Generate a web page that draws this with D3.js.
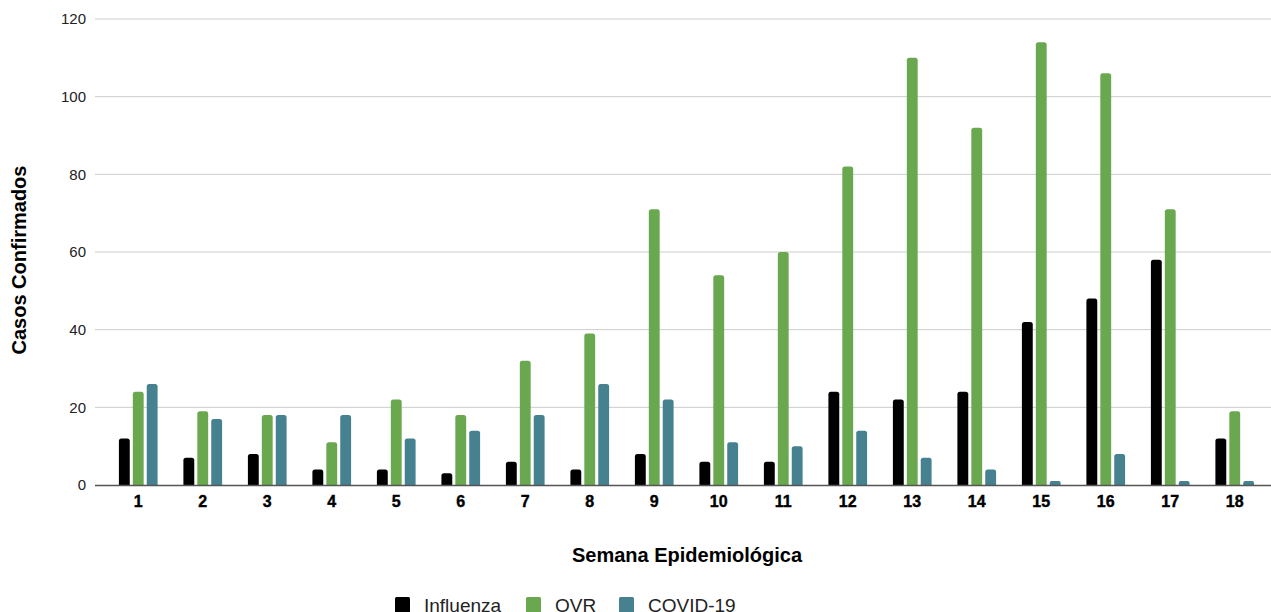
<!DOCTYPE html>
<html>
<head>
<meta charset="utf-8">
<script src="https://cdn.jsdelivr.net/npm/d3@7"></script>
<style>
  body { margin: 0; background: #fff; }
  svg { display: block; font-family: "Liberation Sans", Arial, sans-serif; }
</style>
</head>
<body>
<svg id="chart" width="1271" height="612"></svg>
<script>
// weeks and cases per series
const weeks = ["1","2","3","4","5","6","7","8","9","10","11","12","13","14","15","16","17","18"];
const seriesNames = ["Influenza", "OVR", "COVID-19"];
const influenza = [12, 7, 8, 4, 4, 3, 6, 4, 8, 6, 6, 24, 22, 24, 42, 48, 58, 12];
const ovr = [24, 19, 18, 11, 22, 18, 32, 39, 71, 54, 60, 82, 110, 92, 114, 106, 71, 19];
const covid = [26, 17, 18, 18, 12, 14, 18, 26, 22, 11, 10, 14, 7, 4, 1, 8, 1, 1];
const yTicks = [0, 20, 40, 60, 80, 100, 120];
const colors = ["#000000", "#6aa84f", "#45818e"];

(function () {
  const seriesValues = [influenza, ovr, covid];

  const svg = d3.select("#chart");
  const plotLeft = 106, plotRight = 1267, plotTop = 19, plotBottom = 485;

  const x = d3.scaleBand().domain(weeks).range([plotLeft, plotRight]).paddingInner(0.4).paddingOuter(0.2);
  const xs = d3.scaleBand().domain(seriesNames).range([0, x.bandwidth()]).paddingInner(0.22);
  const y = d3.scaleLinear().domain([0, 120]).range([plotBottom, plotTop]);

  // grid lines + y labels
  const yAxis = svg.append("g").attr("transform", "translate(95,0)")
    .call(d3.axisLeft(y).tickValues(yTicks).tickSize(0).tickPadding(9));
  yAxis.select(".domain").remove();
  yAxis.selectAll("text").attr("font-size", 15).attr("fill", "#222").attr("font-family", "Liberation Sans, Arial");

  svg.append("g").selectAll("line")
    .data(yTicks.filter(d => d > 0))
    .enter().append("line")
    .attr("x1", 95).attr("x2", 1271)
    .attr("y1", d => y(d)).attr("y2", d => y(d))
    .attr("stroke", "#cccccc").attr("stroke-width", 1);

  // bars, rounded top corners
  function barPath(x0, w, yTop, yBase) {
    const r = Math.min(2.5, (yBase - yTop) / 2, w / 2);
    return "M" + x0 + "," + yBase +
      "V" + (yTop + r) +
      "Q" + x0 + "," + yTop + " " + (x0 + r) + "," + yTop +
      "H" + (x0 + w - r) +
      "Q" + (x0 + w) + "," + yTop + " " + (x0 + w) + "," + (yTop + r) +
      "V" + yBase + "Z";
  }

  const groups = svg.append("g").selectAll("g")
    .data(weeks)
    .enter().append("g")
    .attr("transform", d => "translate(" + x(d) + ",0)");

  groups.selectAll("path")
    .data((d, i) => seriesNames.map((s, j) => ({ s: s, v: seriesValues[j][i], c: colors[j] })))
    .enter().append("path")
    .attr("d", d => barPath(xs(d.s), xs.bandwidth(), y(d.v), y(0)))
    .attr("fill", d => d.c);

  // baseline
  svg.append("line")
    .attr("x1", 95).attr("x2", 1271)
    .attr("y1", y(0) + 0.5).attr("y2", y(0) + 0.5)
    .attr("stroke", "#555").attr("stroke-width", 1.3);

  // x labels
  const xAxis = svg.append("g").attr("transform", "translate(0," + plotBottom + ")")
    .call(d3.axisBottom(x).tickSize(0).tickPadding(11));
  xAxis.select(".domain").remove();
  xAxis.selectAll("text").attr("font-size", 16).attr("font-weight", "bold").attr("fill", "#000")
    .attr("stroke", "#000").attr("stroke-width", 0.4).attr("font-family", "Liberation Sans, Arial");

  // axis titles
  svg.append("text")
    .attr("x", 687).attr("y", 562)
    .attr("text-anchor", "middle")
    .attr("font-size", 20).attr("font-weight", "bold")
    .text("Semana Epidemiológica");

  svg.append("text")
    .attr("transform", "translate(26,260) rotate(-90)")
    .attr("text-anchor", "middle")
    .attr("font-size", 20).attr("font-weight", "bold")
    .text("Casos Confirmados");

  // legend
  const legendX = [395, 526, 619];
  const legend = svg.append("g").selectAll("g")
    .data(seriesNames)
    .enter().append("g")
    .attr("transform", (d, i) => "translate(" + legendX[i] + ",597)");

  legend.append("rect")
    .attr("width", 15).attr("height", 16).attr("rx", 1.5)
    .attr("fill", (d, i) => colors[i]);

  legend.append("text")
    .attr("x", 29).attr("y", 15)
    .attr("font-size", 19).attr("fill", "#222")
    .text(d => d);
})();
</script>
</body>
</html>
